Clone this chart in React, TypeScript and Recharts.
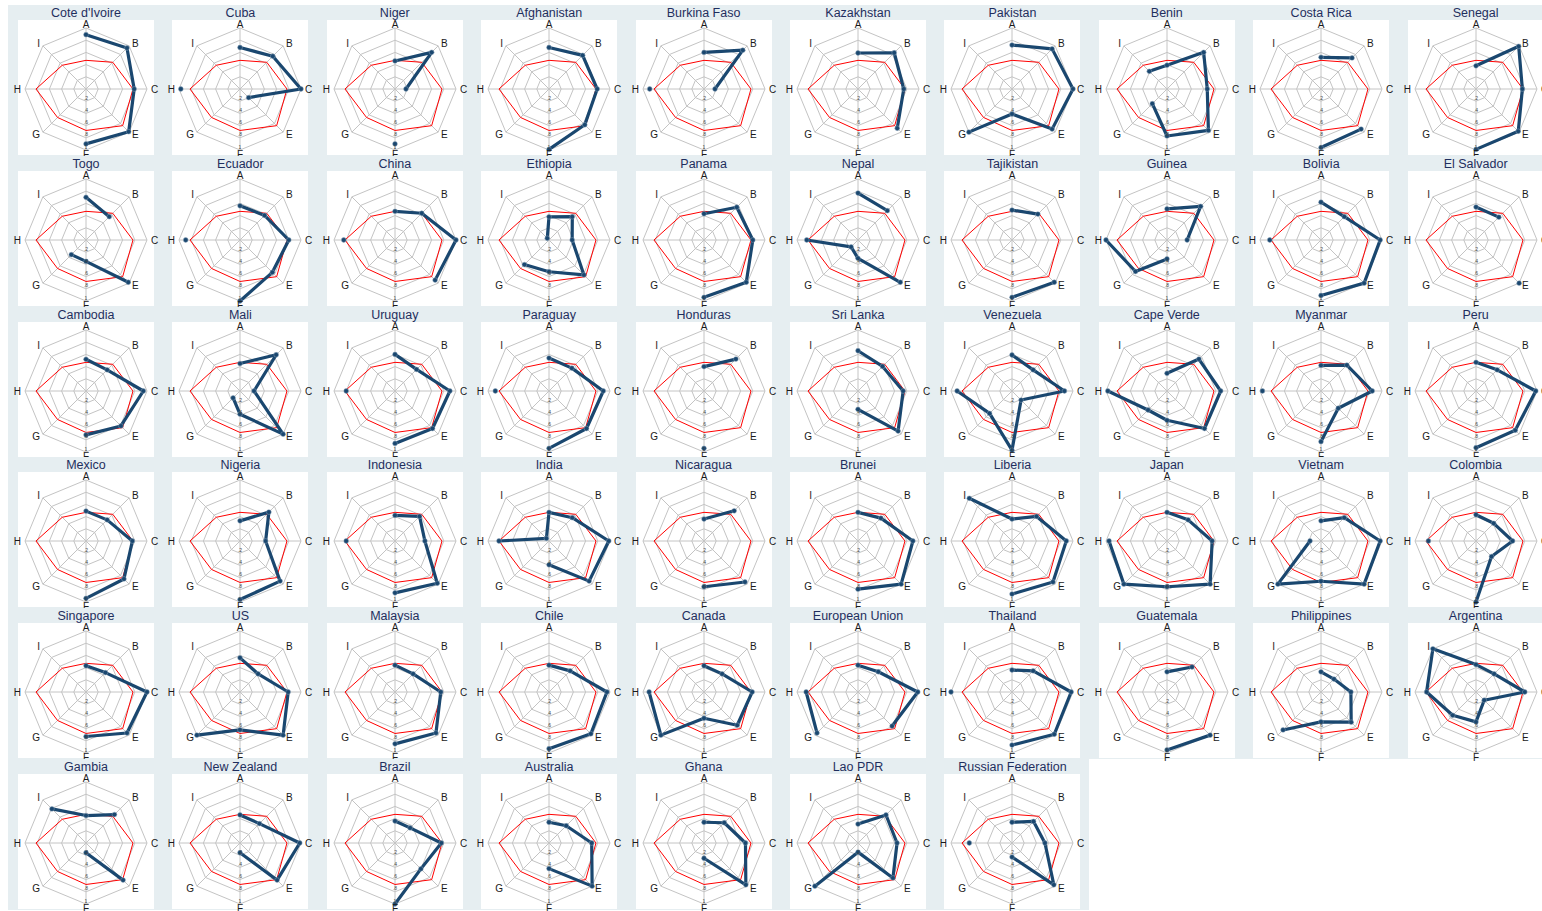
import React from 'react';
import { RadarChart, Radar, PolarGrid, PolarAngleAxis, PolarRadiusAxis } from 'recharts';

const AXES = ['A', 'B', 'C', 'E', 'F', 'G', 'H', 'I'];
const REFERENCE = [0.47, 0.62, 0.77, 0.85, 0.68, 0.66, 0.82, 0.55];
const RADIUS_TICKS = [0.2, 0.4, 0.6, 0.8, 1];
const RADIUS_TICK_LABELS = ['.2', '.4', '.6', '.8', '1'];

type V = number | null;

const ROW1_NAMES = ["Cote d'Ivoire", 'Cuba', 'Niger', 'Afghanistan', 'Burkina Faso', 'Kazakhstan', 'Pakistan', 'Benin', 'Costa Rica', 'Senegal'];
const ROW1_VALUES: V[][] = [
  [0.89, 0.95, 0.79, 0.99, 0.9, null, null, null],
  [0.68, 0.76, 1.0, 0.2, null, null, 0.97, null],
  [0.46, 0.85, 0.18, null, 0.9, null, null, null],
  [0.68, 0.78, 0.79, 0.83, 0.99, null, null, null],
  [0.6, 0.9, 0.18, null, null, null, 0.89, null],
  [0.59, 0.84, 0.75, 0.91, null, null, null, null],
  [0.72, 0.93, 1.0, 0.93, 0.41, 1.0, null, null],
  [0.39, 0.85, 0.66, 0.96, 0.77, 0.34, null, 0.41],
  [0.52, 0.72, null, 0.93, 0.96, null, null, null],
  [0.38, 0.99, 0.76, 0.98, 0.99, null, null, null],
];

const ROW2_NAMES = ['Togo', 'Ecuador', 'China', 'Ethiopia', 'Panama', 'Nepal', 'Tajikistan', 'Guinea', 'Bolivia', 'El Salvador'];
const ROW2_VALUES: V[][] = [
  [0.7, 0.54, null, 0.98, 0.35, 0.34, null, null],
  [0.56, 0.57, 0.8, 0.75, 1.0, null, 0.89, null],
  [0.47, 0.62, 1.0, 0.93, null, null, 0.84, null],
  [0.38, 0.54, 0.38, 0.81, 0.52, 0.57, null, 0.04],
  [0.43, 0.76, 0.8, 0.98, 0.94, null, null, null],
  [0.77, 0.68, null, 0.98, 0.3, 0.16, 0.84, null],
  [0.49, 0.6, null, 0.98, 0.94, null, null, null],
  [0.51, 0.78, 0.33, null, 0.31, 0.73, 1.0, null],
  [0.62, 0.54, 0.97, 1.0, 0.91, null, 0.84, null],
  [0.54, 0.53, null, 1.0, null, null, null, null],
];

const ROW3_NAMES = ['Cambodia', 'Mali', 'Uruguay', 'Paraguay', 'Honduras', 'Sri Lanka', 'Venezuela', 'Cape Verde', 'Myanmar', 'Peru'];
const ROW3_VALUES: V[][] = [
  [0.52, 0.49, 0.94, 0.81, 0.72, null, null, null],
  [0.45, 0.84, 0.23, 1.0, 0.38, 0.16, null, null],
  [0.6, 0.5, 0.9, 0.87, 0.86, null, 0.8, null],
  [0.54, 0.53, 0.89, 0.87, 0.94, null, 0.88, null],
  [0.4, 0.74, null, null, 0.94, null, null, null],
  [0.66, 0.57, 0.74, 0.93, 0.3, null, null, null],
  [0.59, 0.49, 0.86, 0.21, 0.97, 0.52, 0.9, null],
  [0.29, 0.74, 0.88, 0.87, 0.48, 0.44, 0.97, null],
  [0.42, 0.6, 0.84, 0.4, 0.83, null, 0.96, null],
  [0.47, 0.49, 0.98, 0.91, 0.93, null, null, null],
];

const ROW4_NAMES = ['Mexico', 'Nigeria', 'Indonesia', 'India', 'Nicaragua', 'Brunei', 'Liberia', 'Japan', 'Vietnam', 'Colombia'];
const ROW4_VALUES: V[][] = [
  [0.49, 0.49, 0.76, 0.88, 0.94, null, null, null],
  [0.33, 0.67, 0.42, 0.93, 0.96, null, null, null],
  [0.42, 0.57, 0.49, 0.98, 0.85, null, 0.8, null],
  [0.47, 0.54, 0.98, 0.93, 0.39, null, 0.82, 0.06],
  [0.36, 0.7, null, 0.95, 0.75, null, null, null],
  [0.47, 0.53, 0.9, 1.0, 0.79, null, null, null],
  [0.36, 0.57, 0.89, 0.95, 0.87, null, null, 0.99],
  [0.47, 0.49, 0.74, 1.0, 0.75, 1.0, 0.95, null],
  [0.33, 0.54, 0.97, 1.0, 0.66, 1.0, 0.18, null],
  [0.43, 0.41, 0.6, 0.36, 1.0, null, 0.78, null],
];

const ROW5_NAMES = ['Singapore', 'US', 'Malaysia', 'Chile', 'Canada', 'European Union', 'Thailand', 'Guatemala', 'Philippines', 'Argentina'];
const ROW5_VALUES: V[][] = [
  [0.43, 0.45, 1.0, 0.95, 0.73, null, null, null],
  [0.56, 0.42, 0.79, 1.0, 0.62, 1.0, null, null],
  [0.44, 0.42, 0.75, 0.95, 0.85, null, null, null],
  [0.44, 0.49, 0.95, 0.97, 0.93, null, null, null],
  [0.43, 0.42, 0.79, 0.77, 0.43, 1.0, 0.9, null],
  [0.44, 0.47, 0.98, 0.79, null, 0.95, 0.85, null],
  [0.36, 0.49, 0.97, 0.98, 0.87, null, 1.0, null],
  [0.33, 0.58, null, 1.0, 0.95, null, null, null],
  [0.33, 0.3, 0.49, 0.7, 0.49, 0.88, null, null],
  [0.45, 0.42, 0.8, 0.19, 0.49, 0.54, 0.81, 1.0],
];

const ROW6_NAMES = ['Gambia', 'New Zealand', 'Brazil', 'Australia', 'Ghana', 'Lao PDR', 'Russian Federation'];
const ROW6_VALUES: V[][] = [
  [0.45, 0.66, null, 0.86, 0.16, null, null, 0.79],
  [0.46, 0.45, 0.98, 0.86, 0.16, null, null, null],
  [0.36, 0.35, 0.76, 0.6, 1.0, null, null, null],
  [0.34, 0.4, 0.7, 1.0, 0.42, null, null, null],
  [0.34, 0.47, 0.68, 0.97, 0.25, null, null, null],
  [0.31, 0.65, 0.64, 0.81, 0.15, 1.0, null, null],
  [0.34, 0.5, 0.54, 0.97, 0.23, null, 0.7, null],
];

const ROWS = [
  { names: ROW1_NAMES, values: ROW1_VALUES },
  { names: ROW2_NAMES, values: ROW2_VALUES },
  { names: ROW3_NAMES, values: ROW3_VALUES },
  { names: ROW4_NAMES, values: ROW4_VALUES },
  { names: ROW5_NAMES, values: ROW5_VALUES },
  { names: ROW6_NAMES, values: ROW6_VALUES },
];

const FONT = '"Liberation Sans", Arial, Helvetica, sans-serif';
const BAND = '#e6eef1';
const NAVY = '#1a476f';
const COL_STEP = 154.4;
const ROW_STEP = 150.8;

const AngleTick = (props: any) => {
  const { x, y, textAnchor, payload } = props;
  return (
    <text x={x} y={y} textAnchor={textAnchor} dominantBaseline="central" fontSize={10} fill="#1a1a1a" fontFamily={FONT}>
      {payload.value}
    </text>
  );
};

const RadiusTick = (props: any) => {
  const { x, y, payload } = props;
  const idx = RADIUS_TICKS.indexOf(payload.value);
  const label = idx >= 0 ? RADIUS_TICK_LABELS[idx] : '';
  return (
    <text x={x} y={y - 1.5} textAnchor="middle" fontSize={5} fill="#444" fontFamily={FONT}>
      {label}
    </text>
  );
};

// Draws the series through the library-computed points, leaving gaps where a value is missing.
const GappedShape = (props: any) => {
  const points: any[] = props.points || [];
  const n = points.length;
  const valid = points.map((p) => p && p.payload && p.payload.v !== null && p.payload.v !== undefined && Number.isFinite(p.x) && Number.isFinite(p.y));
  const segs: number[][] = [];
  if (n > 0 && valid.every(Boolean)) {
    segs.push([...points.map((_, i) => i), 0]);
  } else if (n > 0) {
    const start = valid.findIndex((v: boolean) => !v);
    let cur: number[] = [];
    for (let k = 1; k <= n; k++) {
      const i = (start + k) % n;
      if (valid[i]) cur.push(i);
      else {
        if (cur.length) segs.push(cur);
        cur = [];
      }
    }
    if (cur.length) segs.push(cur);
  }
  const d = segs
    .filter((s) => s.length > 1)
    .map((s) => s.map((i, k) => `${k === 0 ? 'M' : 'L'}${points[i].x},${points[i].y}`).join(''))
    .join('');
  return (
    <g>
      {d && <path d={d} fill="none" stroke={NAVY} strokeWidth={3.2} strokeLinejoin="round" strokeLinecap="round" />}
      {points.map((p, i) =>
        valid[i] ? <circle key={i} cx={p.x} cy={p.y} r={2.4} fill={NAVY} stroke="#8aa3b8" strokeWidth={0.5} /> : null
      )}
    </g>
  );
};

function Panel({ name, values, left, top }: { name: string; values: V[]; left: number; top: number }) {
  const data = AXES.map((a, i) => ({ axis: a, ref: REFERENCE[i], v: values[i] }));
  return (
    <div style={{ position: 'absolute', left, top, width: 155, height: 151, background: BAND }}>
      <div
        style={{
          position: 'absolute', left: 10, top: 1, width: 136, height: 15, lineHeight: '15px',
          textAlign: 'center', fontSize: 12.5, color: '#1f2e5e', fontFamily: FONT, whiteSpace: 'nowrap',
        }}
      >
        {name}
      </div>
      <div style={{ position: 'absolute', left: 10, top: 15, width: 136, height: 135, background: '#fff' }} />
      <div style={{ position: 'absolute', left: 0, top: 0 }}>
        <RadarChart width={155} height={162} data={data} cx={78} cy={84} outerRadius={61} style={{ overflow: 'visible' }}>
          <PolarGrid gridType="polygon" stroke="#c4c4c4" strokeWidth={1} />
          <PolarAngleAxis dataKey="axis" tick={AngleTick} tickLine={false} axisLine={false} tickSize={4} />
          <PolarRadiusAxis angle={-90} domain={[0, 1]} ticks={RADIUS_TICKS} type="number" axisLine={false} tick={RadiusTick} />
          <Radar dataKey="ref" stroke="#ff0000" strokeWidth={1} fill="none" fillOpacity={0} dot={false} isAnimationActive={false} />
          <Radar dataKey="v" shape={GappedShape} dot={false} isAnimationActive={false} />
        </RadarChart>
      </div>
    </div>
  );
}

export default function App() {
  return (
    <div style={{ position: 'absolute', left: 0, top: 0, width: 1542, height: 911, background: '#fff', overflow: 'hidden' }}>
      {ROWS.map((row, r) =>
        row.names.map((name, c) => (
          <Panel key={name} name={name} values={row.values[c]} left={8 + c * COL_STEP} top={5 + r * ROW_STEP} />
        ))
      )}
    </div>
  );
}
